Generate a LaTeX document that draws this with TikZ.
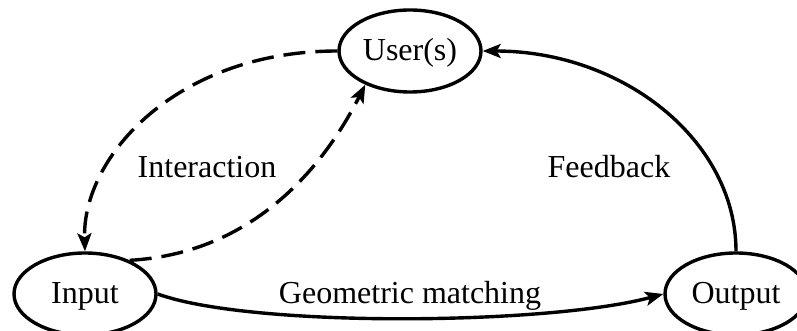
\documentclass[tikz,border=0pt]{standalone}
\usepackage{fontspec}
\setmainfont{Liberation Serif}
\usepackage{tikz}
\usetikzlibrary{arrows.meta,shapes.geometric}

\begin{document}
\begin{tikzpicture}[x=0.5pt,y=-0.5pt,
  state/.style={draw,ellipse,line width=1.7pt,inner sep=0pt,
                minimum width=71pt,minimum height=41pt,
                text height=9.5pt,text depth=0pt},
  flow/.style={-{Stealth[length=9pt,width=7pt,inset=2pt]},line width=1.7pt},
  talk/.style={flow,dash pattern=on 11pt off 5pt},
  lbl/.style={anchor=base}]
  \useasboundingbox (0,0) rectangle (797,331);
  \fontsize{16}{19}\selectfont
  % Nodes
  \node[state] (usr) at (410,51) {User(s)};
  \node[state] (inp) at (85,294) {Input};
  \node[state] (outp) at (736,294) {Output};
  % Edges
  \draw[talk] (usr.west) .. controls +(-160,0) and +(-3,-95) .. (inp.north);
  \draw[talk] (inp.37) .. controls +(123,-7) and +(-42,83) .. (usr.217);
  \draw[flow] (inp.east) .. controls +(94,34) and +(-115,31) .. (outp.west);
  \draw[flow] (outp.north) .. controls +(0,-111) and +(140,0) .. (usr.east);
  % Labels
  \node[lbl] (intlbl) at (207,178) {Interaction};
  \node[lbl] (fblbl) at (609,178) {Feedback};
  \node[lbl] (gmlbl) at (410,303) {Geometric matching};
\end{tikzpicture}
\end{document}
